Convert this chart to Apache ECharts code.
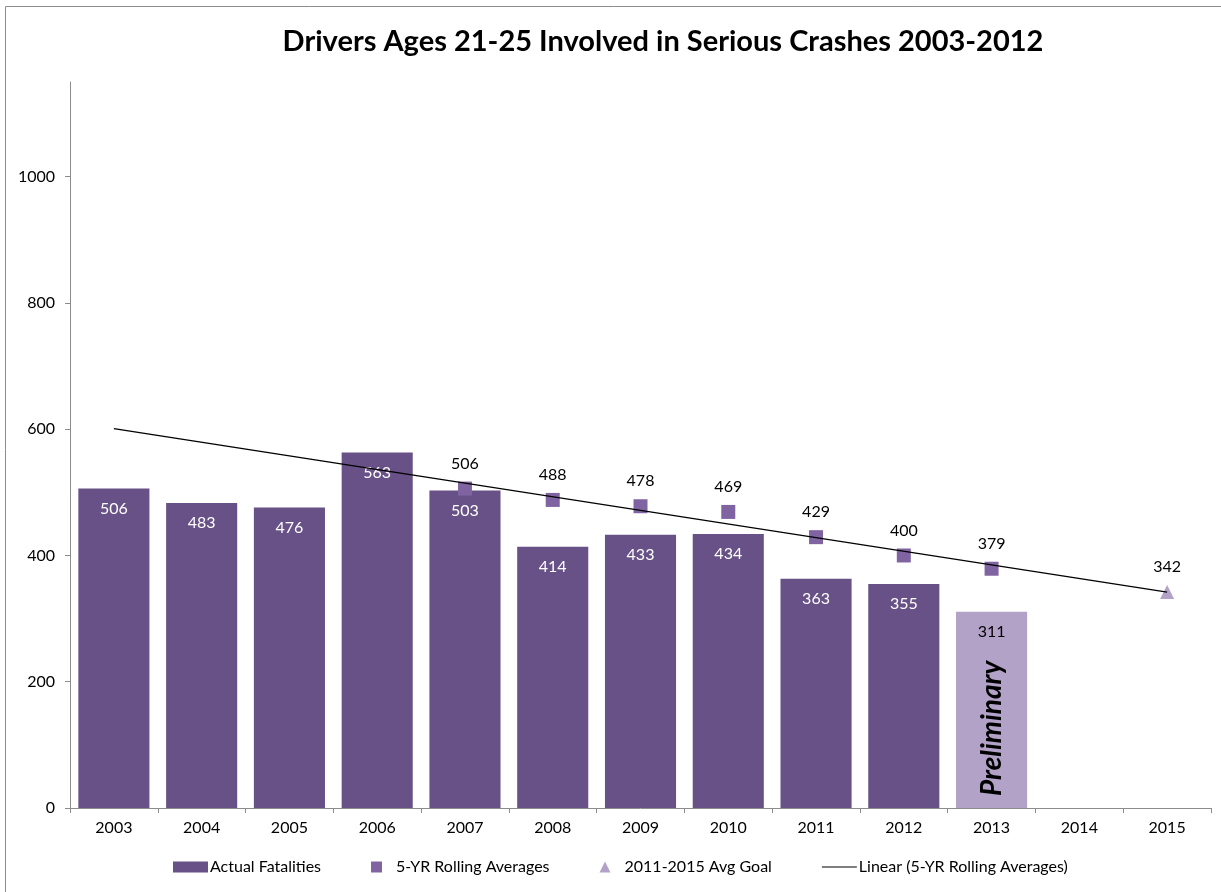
<!DOCTYPE html>
<html>
<head>
<meta charset="utf-8">
<script src="https://cdn.jsdelivr.net/npm/echarts@6/dist/echarts.min.js"></script>
<style>
html,body{margin:0;padding:0;background:#fff;}
#chart{width:1221px;height:892px;}
</style>
</head>
<body>
<div id="chart"></div>
<script>
const years = ['2003','2004','2005','2006','2007','2008','2009','2010','2011','2012','2013','2014','2015'];
const actualFatalities = [506,483,476,563,503,414,433,434,363,355,null,null,null];
const preliminary = [null,null,null,null,null,null,null,null,null,null,311,null,null];
const rollingAverages = [null,null,null,null,506,488,478,469,429,400,379,null,null];
const avgGoal = [null,null,null,null,null,null,null,null,null,null,null,null,342];
const linearTrend = [601,null,null,null,null,null,null,null,null,null,null,null,342];
const yTicks = [0,200,400,600,800,1000];

const font = 'Lato, "Open Sans", sans-serif';
const chart = echarts.init(document.getElementById('chart'));
chart.setOption({
  animation: false,
  backgroundColor: '#fff',
  graphic: [{
    type: 'rect', shape: {x: 5.5, y: 6.5, width: 1300, height: 1000},
    style: {fill: 'none', stroke: '#8c8c8c', lineWidth: 1}, silent: true, z: -1
  }],
  title: {
    text: 'Drivers Ages 21-25 Involved in Serious Crashes 2003-2012',
    left: 658, top: 22, textAlign: 'center',
    textStyle: {fontFamily: font, fontSize: 29, fontWeight: 'bold', color: '#000'}
  },
  grid: {left: 70, right: 10, top: 82, bottom: 84, containLabel: false},
  legend: {
    bottom: 12, left: 168, itemWidth: 35, itemHeight: 11, itemGap: 50,
    textStyle: {fontFamily: font, fontSize: 16, color: '#000', padding: [0,0,0,-3]},
    data: [
      {name: 'Actual Fatalities', icon: 'rect', itemStyle: {color: '#685186'}},
      {name: '5-YR Rolling Averages', icon: 'path://M0,0L10,0L10,10L0,10Z', itemStyle: {color: '#8064a2'}},
      {name: '2011-2015 Avg Goal', icon: 'path://M5,0L10,10L0,10Z', itemStyle: {color: '#b3a2c7'}},
      {name: 'Linear (5-YR Rolling Averages)', icon: 'path://M0,0L30,0L30,1L0,1Z', itemStyle: {color: '#000'}}
    ]
  },
  xAxis: {
    type: 'category', data: years,
    axisLine: {lineStyle: {color: '#8c8c8c'}},
    axisTick: {show: true, length: 5, lineStyle: {color: '#8c8c8c'}},
    axisLabel: {fontFamily: font, fontSize: 16, color: '#000', margin: 12}
  },
  yAxis: {
    type: 'value', min: 0, max: 1150, interval: 200,
    splitLine: {show: false},
    axisLine: {show: true, lineStyle: {color: '#8c8c8c'}},
    axisTick: {show: true, length: 5, lineStyle: {color: '#8c8c8c'}, customValues: yTicks},
    axisLabel: {fontFamily: font, fontSize: 16, color: '#000', margin: 15, customValues: yTicks,
      formatter: function (v) { return String(v); }}
  },
  series: [
    {
      name: 'Actual Fatalities', type: 'bar', data: actualFatalities, barWidth: '81%',
      itemStyle: {color: '#685186'},
      label: {show: true, position: 'insideTop', distance: 12, color: '#fff', fontFamily: font, fontSize: 16}
    },
    {
      name: 'Preliminary', type: 'bar', data: preliminary, barWidth: '81%', barGap: '-100%',
      itemStyle: {color: '#b3a2c7'},
      label: {show: true, position: 'insideTop', distance: 12, color: '#000', fontFamily: font, fontSize: 16}
    },
    {
      name: 'PreliminaryText', type: 'bar', data: preliminary, barWidth: '81%', barGap: '-100%',
      itemStyle: {color: 'rgba(0,0,0,0)'}, silent: true,
      label: {show: true, position: 'insideBottom', distance: 12, rotate: 90, align: 'left', verticalAlign: 'middle',
        formatter: 'Preliminary', color: '#000', fontFamily: font, fontSize: 28, fontWeight: 'bold', fontStyle: 'italic'}
    },
    {
      name: '5-YR Rolling Averages', type: 'line', data: rollingAverages,
      lineStyle: {width: 0, opacity: 0}, symbol: 'rect', symbolSize: 14,
      itemStyle: {color: '#8064a2'},
      label: {show: true, position: 'top', distance: 10, color: '#000', fontFamily: font, fontSize: 16}
    },
    {
      name: '2011-2015 Avg Goal', type: 'line', data: avgGoal,
      lineStyle: {width: 0, opacity: 0}, symbol: 'triangle', symbolSize: 14,
      itemStyle: {color: '#b3a2c7'},
      label: {show: true, position: 'top', distance: 10, color: '#000', fontFamily: font, fontSize: 16}
    },
    {
      name: 'Linear (5-YR Rolling Averages)', type: 'line', data: linearTrend, connectNulls: true,
      symbol: 'none', lineStyle: {color: '#000', width: 1.3}, itemStyle: {color: '#000'}, z: 5
    }
  ]
});
</script>
</body>
</html>
